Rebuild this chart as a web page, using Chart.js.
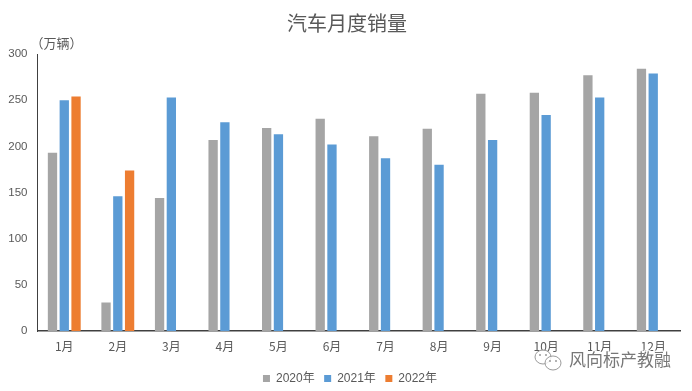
<!DOCTYPE html>
<html>
<head>
<meta charset="utf-8">
<script src="https://cdn.jsdelivr.net/npm/chart.js@4"></script>
<style>
    html, body { margin: 0; padding: 0; background: #fff; }
    canvas { display: block; }
</style>
</head>
<body>
<canvas id="salesChart" width="692" height="391"></canvas>
<script>
// Values
const months = ['1月', '2月', '3月', '4月', '5月', '6月', '7月', '8月', '9月', '10月', '11月', '12月'];
const sales2020 = [193, 31, 144, 207, 220, 230, 211, 219, 257, 258, 277, 284];
const sales2021 = [250, 146, 253, 226, 213, 202, 187, 180, 207, 234, 253, 279];
const sales2022 = [254, 174, null, null, null, null, null, null, null, null, null, null];

const cjkFont = '"Noto Sans CJK SC", sans-serif';
const tickFont = '"Liberation Sans", "Noto Sans CJK SC", sans-serif';

const extras = {
    id: 'extras',
    // title and legend sit right of the plot centre in the reference
    beforeDraw(chart) {
        chart.titleBlock.left += 14;
        chart.legend.left += 20;
        chart.legend.top += 1.5;
    },
    afterDraw(chart) {
        const ctx = chart.ctx;
        ctx.save();
        ctx.fillStyle = '#595959';
        ctx.font = '13px ' + cjkFont;
        ctx.textBaseline = 'middle';
        ctx.fillText('（万辆）', 30.5, 43);

        // wechat style mark
        ctx.strokeStyle = '#9a9a9a';
        ctx.fillStyle = 'rgba(255,255,255,0.8)';
        ctx.lineWidth = 1;
        ctx.beginPath();
        ctx.ellipse(543, 357, 8, 7, 0, 0, Math.PI * 2);
        ctx.fill();
        ctx.stroke();
        ctx.beginPath();
        ctx.ellipse(553, 363, 8, 7, 0, 0, Math.PI * 2);
        ctx.fill();
        ctx.stroke();
        ctx.fillStyle = '#9a9a9a';
        [[540, 355], [546, 355], [550, 361], [556, 361]].forEach(function(p) {
            ctx.beginPath();
            ctx.arc(p[0], p[1], 1, 0, Math.PI * 2);
            ctx.fill();
        });

        ctx.font = '17px ' + cjkFont;
        ctx.lineWidth = 3;
        ctx.strokeStyle = 'rgba(255,255,255,0.85)';
        ctx.strokeText('风向标产教融', 569, 360);
        ctx.fillStyle = '#777777';
        ctx.fillText('风向标产教融', 569, 360);
        ctx.restore();
    }
};

new Chart(document.getElementById('salesChart').getContext('2d'), {
    type: 'bar',
    data: {
        labels: months,
        datasets: [
            { label: '2020年', data: sales2020, backgroundColor: '#a5a5a5' },
            { label: '2021年', data: sales2021, backgroundColor: '#5b9bd5' },
            { label: '2022年', data: sales2022, backgroundColor: '#ed7d31' }
        ]
    },
    options: {
        responsive: false,
        animation: false,
        categoryPercentage: 0.66,
        barPercentage: 0.79,
        layout: { padding: { top: 11, right: 12, bottom: -2, left: 0 } },
        plugins: {
            title: {
                display: true,
                text: '汽车月度销量',
                color: '#595959',
                font: { family: cjkFont, size: 20, weight: 'normal' },
                padding: { top: 0, bottom: 19 }
            },
            legend: {
                position: 'bottom',
                labels: {
                    color: '#595959',
                    font: { family: tickFont, size: 12 },
                    boxWidth: 7,
                    boxHeight: 7,
                    padding: 9.5
                }
            },
            tooltip: { enabled: false }
        },
        scales: {
            x: {
                grid: { display: false, drawTicks: false },
                border: { color: '#404040', width: 1.5 },
                ticks: {
                    color: '#595959',
                    font: { family: cjkFont, size: 12 },
                    maxRotation: 0,
                    autoSkip: false,
                    padding: 8
                }
            },
            y: {
                min: 0,
                max: 300,
                afterFit(scale) { scale.width = 37.5; },
                grid: { display: false, drawTicks: false },
                border: { color: '#404040', width: 1 },
                ticks: {
                    stepSize: 50,
                    color: '#595959',
                    font: { family: tickFont, size: 11.5 },
                    padding: 10
                }
            }
        }
    },
    plugins: [extras]
});
</script>
</body>
</html>
